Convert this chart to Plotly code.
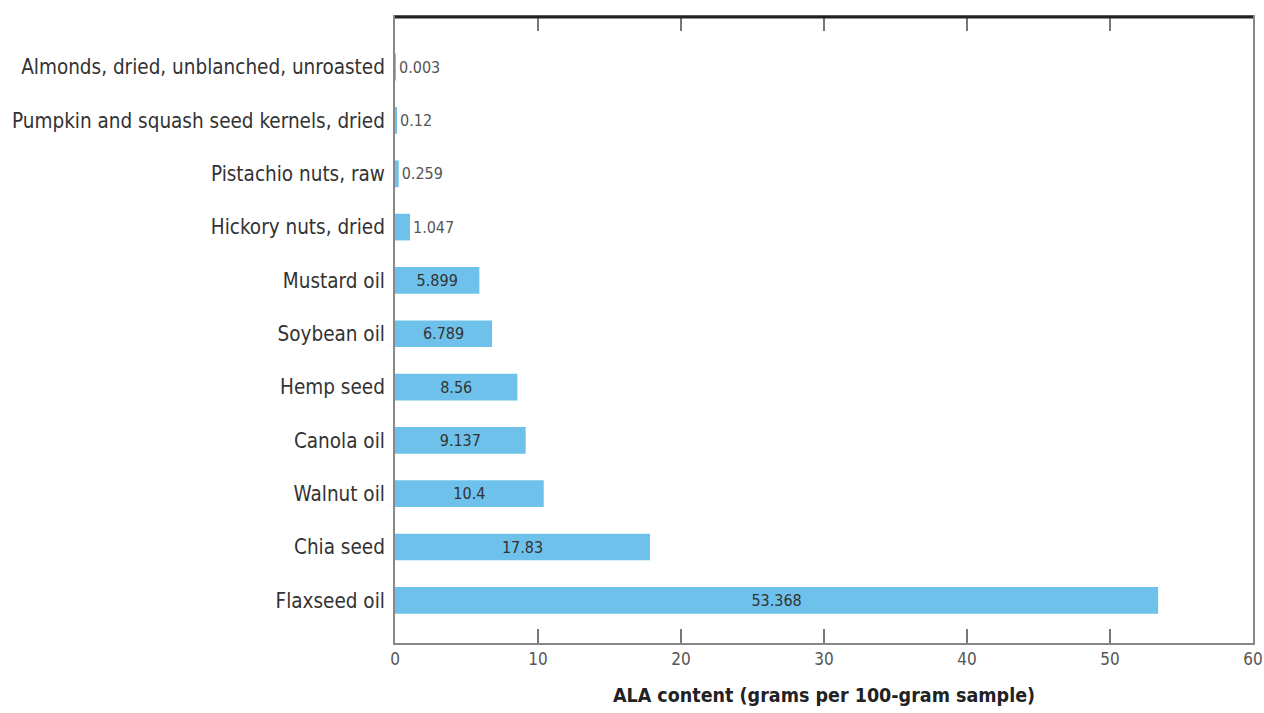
import plotly.graph_objects as go

foods = [
    "Almonds, dried, unblanched, unroasted",
    "Pumpkin and squash seed kernels, dried",
    "Pistachio nuts, raw",
    "Hickory nuts, dried",
    "Mustard oil",
    "Soybean oil",
    "Hemp seed",
    "Canola oil",
    "Walnut oil",
    "Chia seed",
    "Flaxseed oil",
]
ala = [0.003, 0.12, 0.259, 1.047, 5.899, 6.789, 8.56, 9.137, 10.4, 17.83, 53.368]
x_ticks = [0, 10, 20, 30, 40, 50, 60]

FONT = "DejaVu Sans Condensed"
positions = ["outside" if v < 2 else "inside" for v in ala]

fig = go.Figure(go.Bar(
    x=ala, y=foods, orientation="h",
    marker=dict(color="#6EC1EA", line=dict(width=0)),
    width=0.5,
    text=[str(v) for v in ala],
    textposition=positions,
    insidetextanchor="middle",
    constraintext="none",
    insidetextfont=dict(family=FONT, size=16, color="#333333"),
    outsidetextfont=dict(family=FONT, size=16, color="#555555"),
    cliponaxis=False,
))

fig.update_layout(
    width=1264, height=713,
    margin=dict(l=395, r=11, t=17, b=70, autoexpand=False),
    paper_bgcolor="white", plot_bgcolor="white",
    showlegend=False,
    font=dict(family=FONT),
    xaxis=dict(
        range=[0, 60], tickvals=x_ticks, ticks="inside", ticklen=14, tickwidth=1.5,
        tickcolor="#777777", showline=True, linecolor="#888888", linewidth=2,
        mirror="allticks", showgrid=False, zeroline=False, automargin=False,
        tickfont=dict(family=FONT, size=17, color="#555555"),
        title=dict(text="<b>ALA content (grams per 100-gram sample)</b>",
                   font=dict(family=FONT, size=19.5, color="#222222"), standoff=20),
    ),
    yaxis=dict(
        range=[10.8, -0.94], showline=True, linecolor="#888888", linewidth=2,
        mirror=True, showgrid=False, ticks="", zeroline=False, automargin=False,
        tickfont=dict(family=FONT, size=20.5, color="#333333"),
        ticklabelstandoff=4,
    ),
    shapes=[dict(type="line", xref="paper", yref="paper", x0=0, x1=1, y0=1, y1=1,
                 line=dict(color="#222222", width=3))],
)

fig.write_html("out.html")
